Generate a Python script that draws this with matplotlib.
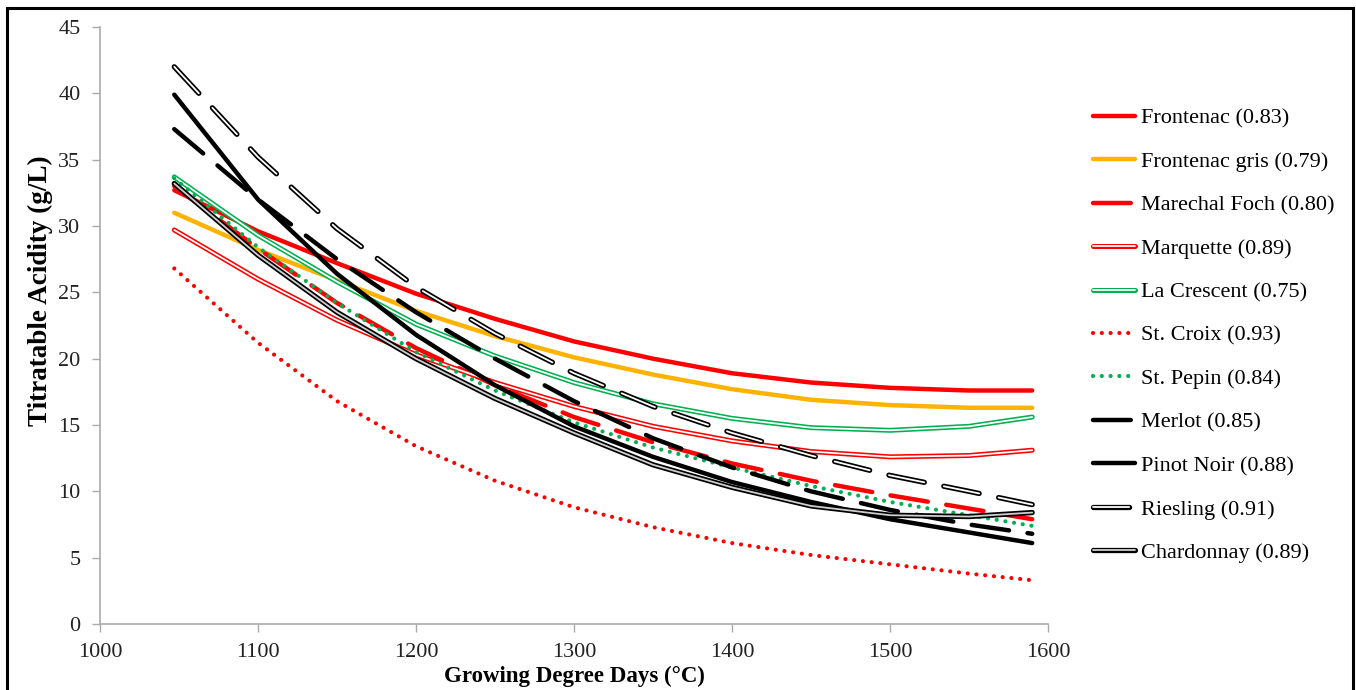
import matplotlib
matplotlib.use("Agg")
import matplotlib.pyplot as plt
import matplotlib.patheffects as pe
from matplotlib.patches import Rectangle

gdd = [1047, 1100, 1150, 1200, 1250, 1300, 1350, 1400, 1450, 1500, 1550, 1590]

frontenac      = [32.7, 29.6, 27.2, 24.9, 23.0, 21.3, 20.0, 18.9, 18.2, 17.8, 17.6, 17.6]
frontenac_gris = [31.0, 28.2, 25.9, 23.6, 21.7, 20.1, 18.8, 17.7, 16.9, 16.5, 16.3, 16.3]
marechal_foch  = [33.0, 28.3, 24.2, 20.8, 18.0, 15.6, 13.7, 12.1, 10.8, 9.7, 8.7, 7.9]
marquette      = [29.7, 26.0, 22.9, 20.3, 18.2, 16.4, 14.9, 13.8, 13.0, 12.6, 12.7, 13.1]
la_crescent    = [33.7, 29.3, 25.8, 22.6, 20.2, 18.2, 16.6, 15.5, 14.8, 14.6, 14.9, 15.6]
st_croix       = [26.8, 21.2, 16.8, 13.4, 10.8, 8.8, 7.3, 6.1, 5.2, 4.5, 3.8, 3.3]
st_pepin       = [33.6, 28.4, 24.2, 20.5, 17.6, 15.2, 13.3, 11.8, 10.4, 9.2, 8.2, 7.4]
merlot         = [37.3, 32.0, 27.5, 23.5, 20.0, 16.8, 14.0, 11.8, 10.0, 8.6, 7.5, 6.8]
pinot_noir     = [39.9, 32.0, 26.4, 21.8, 18.0, 14.9, 12.6, 10.7, 9.2, 7.9, 6.9, 6.1]
riesling       = [42.0, 35.2, 29.8, 25.4, 21.9, 18.9, 16.4, 14.4, 12.7, 11.2, 10.0, 9.0]
chardonnay     = [33.2, 27.8, 23.5, 20.0, 17.0, 14.4, 12.0, 10.3, 8.9, 8.2, 8.1, 8.4]

labels = ["Frontenac (0.83)", "Frontenac gris (0.79)", "Marechal Foch (0.80)",
          "Marquette (0.89)", "La Crescent (0.75)", "St. Croix (0.93)",
          "St. Pepin (0.84)", "Merlot (0.85)", "Pinot Noir (0.88)",
          "Riesling (0.91)", "Chardonnay (0.89)"]

RED = "#FF0000"
GOLD = "#FFB300"
GREEN = "#00B050"
DASH = (0, (8.5, 4.2))
DOT = (0, (0.01, 2.1))

def double(col, w=3.6):
    return [pe.Stroke(linewidth=w, foreground=col), pe.Normal()]

# (values, colour, lw, linestyle, path effects)
styles = [
    (frontenac,      RED,      3.2, "-",  None),
    (frontenac_gris, GOLD,     3.2, "-",  None),
    (marechal_foch,  RED,      3.2, DASH, None),
    (marquette,      "white",  1.3, "-",  double(RED)),
    (la_crescent,    "white",  1.3, "-",  double(GREEN)),
    (st_croix,       RED,      3.0, DOT,  None),
    (st_pepin,       GREEN,    3.0, DOT,  None),
    (merlot,         "black",  3.2, DASH, None),
    (pinot_noir,     "black",  3.2, "-",  None),
    (riesling,       "white",  1.3, (0, (20, 11)), double("black", 3.8)),
    (chardonnay,     "#CFCFCF", 1.3, "-", double("black", 3.8)),
]

plt.rcParams["font.family"] = ["Liberation Serif", "DejaVu Serif"]

fig = plt.figure(figsize=(13.56, 6.90), dpi=100)
ax = fig.add_axes([100 / 1356, 1 - 624 / 690, 948 / 1356, 597 / 690])

for (vals, col, lw, ls, eff), lab in zip(styles, labels):
    ax.plot(gdd, vals, color=col, lw=lw, linestyle=ls, label=lab,
            dash_capstyle="round", solid_capstyle="round", path_effects=eff)

ax.set_xlim(1000, 1600)
ax.set_ylim(0, 45)
ax.set_xticks(range(1000, 1601, 100))
ax.set_yticks(range(0, 46, 5))
ax.tick_params(labelsize=16, colors="#222222", length=6, width=1, pad=8)
ax.tick_params(axis="both", color="#AAAAAA")
for s in ("top", "right"):
    ax.spines[s].set_visible(False)
for s in ("left", "bottom"):
    ax.spines[s].set_color("#AAAAAA")
    ax.spines[s].set_linewidth(1.2)

ax.set_ylabel("Titratable Acidity (g/L)", fontsize=19.5, fontweight="bold",
              va="center")
ax.yaxis.set_label_coords(-0.063, 0.558)
ax.set_xlabel("Growing Degree Days (°C)", fontsize=16.5, fontweight="bold",
              va="center")
ax.xaxis.set_label_coords(0.5, -0.088)

ax.legend(loc="upper left", bbox_to_anchor=(1093 / 1356, 1 - 108 / 690),
          bbox_transform=fig.transFigure, frameon=False, fontsize=16,
          labelspacing=1.03, handlelength=1.9, handletextpad=0.25,
          borderpad=0, borderaxespad=0)

# outer frame around the whole chart
fig.patches.append(Rectangle((7 / 1356, -0.05), 1346 / 1356, 1.05 - 8 / 690,
                             transform=fig.transFigure, fill=False,
                             edgecolor="black", lw=2.2, clip_on=False))

fig.savefig("out.png", dpi=100)
